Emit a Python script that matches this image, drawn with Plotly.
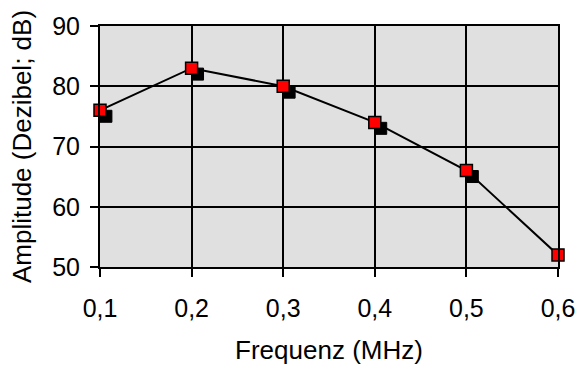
import plotly.graph_objects as go

# Frequenzgang: Amplitude über Frequenz
frequenz_mhz = [0.1, 0.2, 0.3, 0.4, 0.5, 0.6]
amplitude_db = [76, 83, 80, 74, 66, 52]
x_ticks = [0.1, 0.2, 0.3, 0.4, 0.5, 0.6]
y_ticks = [50, 60, 70, 80, 90]

W, H = 587, 372
ML, MR, MT, MB = 100, 23, 24, 104
x_range = [0.1, 0.6]
y_range = [50, 90]

# shadow offset in pixels, converted to axis units for the overlay axes
shadow_px = 6
dx = shadow_px * (x_range[1] - x_range[0]) / (W - ML - MR)
dy = shadow_px * (y_range[1] - y_range[0]) / (H - MT - MB)

font = "Liberation Sans, Arial, sans-serif"

fig = go.Figure()

# base axes (carry grid, ticks and titles)
fig.add_trace(go.Scatter(x=[None], y=[None], mode="markers",
                         showlegend=False, hoverinfo="skip"))

# drop shadow of the markers (drawn on shifted overlay axes)
fig.add_trace(go.Scatter(
    x=frequenz_mhz, y=amplitude_db, xaxis="x2", yaxis="y2",
    mode="markers", cliponaxis=False, hoverinfo="skip",
    marker=dict(symbol="square", size=12, color="black",
                line=dict(color="black", width=1)),
    showlegend=False,
))

# data series
fig.add_trace(go.Scatter(
    x=frequenz_mhz, y=amplitude_db, xaxis="x3", yaxis="y3",
    mode="lines+markers", cliponaxis=False,
    line=dict(color="black", width=2),
    marker=dict(symbol="square", size=12, color="#ff0000",
                line=dict(color="black", width=1.5)),
    showlegend=False,
))

axis_common = dict(showline=True, linecolor="black", linewidth=2, mirror=True,
                   showgrid=True, gridcolor="black", gridwidth=2,
                   ticks="outside", ticklen=8, tickwidth=2, tickcolor="black",
                   zeroline=False,
                   tickfont=dict(family=font, size=25, color="black"))

hidden = dict(showline=False, showgrid=False, zeroline=False,
              showticklabels=False, ticks="")

fig.update_layout(
    width=W, height=H,
    margin=dict(l=ML, r=MR, t=MT, b=MB),
    paper_bgcolor="white",
    plot_bgcolor="#e0e0e0",
    separators=",.",
    xaxis=dict(range=x_range, tickvals=x_ticks, tickformat=".1f",
               ticklabelstandoff=10,
               title=dict(text="Frequenz (MHz)", standoff=20,
                          font=dict(family=font, size=26, color="black")),
               **axis_common),
    yaxis=dict(range=y_range, tickvals=y_ticks, ticklabelstandoff=5,
               title=dict(text="Amplitude (Dezibel; dB)", standoff=13,
                          font=dict(family=font, size=26, color="black")),
               **axis_common),
    xaxis2=dict(range=[x_range[0] - dx, x_range[1] - dx], overlaying="x",
                anchor="y2", **hidden),
    yaxis2=dict(range=[y_range[0] + dy, y_range[1] + dy], overlaying="y",
                anchor="x2", **hidden),
    xaxis3=dict(range=x_range, overlaying="x", anchor="y3", **hidden),
    yaxis3=dict(range=y_range, overlaying="y", anchor="x3", **hidden),
)

fig.write_html("out.html")
